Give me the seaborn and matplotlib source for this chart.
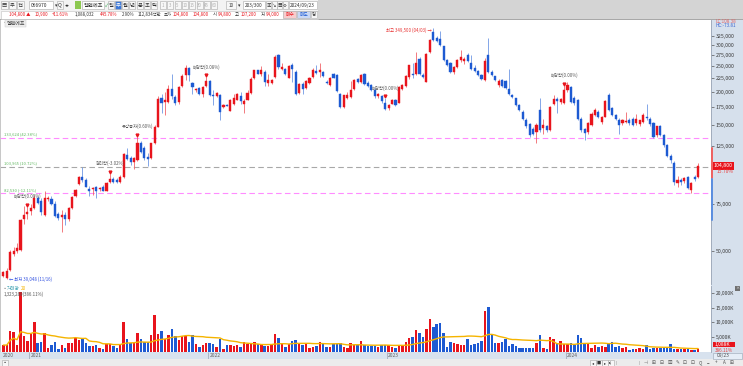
import numpy as np
import pandas as pd
import matplotlib
matplotlib.use("Agg")
import matplotlib.pyplot as plt
import matplotlib.transforms as mtransforms
from matplotlib.patches import Rectangle
from matplotlib.ticker import FixedLocator, FuncFormatter, NullLocator
import seaborn as sns

# weekly candles, 엘앤에프 (066970), prices in 1,000 won
opens = [40.3, 39.4, 42.4, 48.6, 49.8, 50.5, 65.8, 69.0, 71.0, 72.5,
         79.0, 77.0, 68.5, 78.3, 78.7, 75.0, 69.0, 67.2, 68.4, 66.0,
         72.5, 80.7, 89.6, 94.8, 93.0, 86.0, 85.4, 86.9, 85.8, 87.2,
         84.4, 91.0, 93.5, 92.5, 91.0, 95.0, 115.5, 112.2, 108.2, 110.4,
         127.5, 122.3, 113.2, 112.2, 127.5, 147.5, 189.0, 183.3, 183.3, 205.0,
         191, 183, 210, 232, 246, 215, 203, 206, 196, 210,
         219, 194, 192, 195, 175.5, 178.5, 169.5, 179, 186.5, 192,
         180.5, 186.5, 198, 225, 242, 234, 238, 215, 215.5, 227,
         275, 244, 244, 226, 253, 238, 197.5, 214, 206.5, 215,
         227, 240, 238, 238, 218.5, 212, 234, 231, 196, 175.5,
         190, 191, 204.5, 223.5, 217, 234, 215, 212, 203, 192,
         193, 181, 174, 180, 186, 182, 205, 210, 227, 234,
         234, 267, 231, 218.5, 283, 337, 320, 317, 297, 264,
         256, 238, 248, 264, 262, 276, 256, 246, 240, 232,
         222, 275, 238, 229, 212, 221, 219, 205, 194, 189,
         178, 168, 157, 151, 145, 141, 171, 146, 148, 143,
         180, 187, 183, 181, 203, 208, 190, 186, 158, 144,
         141, 150, 163, 168, 153, 161, 194, 173, 163, 157,
         152, 154, 157, 158, 152, 151, 153, 161, 158, 152,
         137, 148, 137, 126, 114, 108, 90.5, 93, 92, 95,
         85, 95, 94.8]
highs = [42.0, 43.0, 50.5, 52.0, 53.5, 66.0, 73.7, 74.0, 75.0, 81.5,
         81.0, 79.0, 84.0, 80.5, 80.5, 77.5, 70.5, 71.4, 70.2, 73.5,
         81.0, 86.0, 96.0, 103.5, 94.0, 88.0, 87.5, 88.0, 87.5, 89.0,
         91.0, 98.6, 95.0, 94.0, 96.5, 117.0, 123.0, 114.0, 113.0, 136.0,
         130.0, 125.0, 117.0, 128.5, 150.0, 192.0, 196.0, 200.0, 212.0, 233.0,
         194, 210, 234, 252, 248, 217, 206.5, 208, 210, 229,
         221, 203, 199.5, 196, 180.5, 180, 188, 196, 197.5, 199.5,
         188, 203, 227, 242.5, 242.5, 250, 242, 234, 224, 275,
         277, 256, 246, 252, 256, 242, 215, 217, 221, 227,
         246, 252, 256, 240, 221, 227, 235, 233, 197.5, 195,
         199.5, 219.5, 223, 226, 233, 236, 219, 214, 206, 198,
         195, 190, 180, 187, 188, 210, 214, 231, 253, 256,
         282, 270, 236, 279, 316, 349.5, 325, 340, 299, 266,
         260, 250, 266, 288, 270, 279, 275, 253, 242, 234,
         268, 318, 241, 230, 223, 223, 221, 244, 196, 190,
         180, 170, 159, 152, 147, 152, 189, 158, 150, 177,
         194, 191, 190, 212, 217, 210, 192, 188, 160, 146,
         153, 167, 173, 170, 162, 186, 197, 175, 165, 159,
         158, 167, 159, 160, 165, 157, 166, 180, 160, 153,
         149, 150, 139, 127, 116, 109, 96, 94.5, 95.5, 96,
         91, 97, 107.2]
lows = [39.8, 39.05, 42.0, 48.0, 49.2, 50.0, 63.5, 66.0, 68.5, 72.0,
        75.0, 68.5, 68.0, 77.0, 74.5, 67.0, 65.5, 59.0, 62.8, 65.0,
        72.0, 80.0, 88.5, 91.5, 87.0, 81.0, 81.6, 79.5, 84.5, 84.0,
        84.0, 90.5, 90.0, 90.0, 90.5, 94.5, 110.0, 105.5, 102.4, 109.0,
        117.0, 110.0, 105.0, 111.0, 127.0, 147.0, 166.0, 163.0, 181.0, 188.0,
        178, 180.5, 208, 221.5, 219.5, 196, 199.5, 194, 191, 209,
        192, 178, 191, 156, 173, 176, 169, 178, 186, 180.5,
        165.5, 186, 196, 223.5, 233, 229, 210, 210, 214, 226,
        244, 242, 232, 225, 217, 194, 196, 196, 205, 214,
        226, 234, 227, 227, 214, 211, 225, 200, 173, 174,
        188, 190, 203, 215, 216, 212, 209, 201, 190, 190,
        182, 170, 171, 179, 176, 181, 203, 208, 223, 225,
        232, 232, 225, 217, 281, 312, 308, 297, 262, 250,
        236, 234, 246, 260, 254, 258, 242, 238, 229, 222,
        220, 236, 229, 219, 208, 209, 204, 194, 189, 176,
        169, 156, 146, 135, 137, 128, 141, 139, 141, 142,
        178, 166, 180, 180, 200, 181, 178, 156, 141, 131,
        139, 149, 162, 159, 151, 160, 169, 162, 156, 139,
        150, 152, 150, 148, 150, 149, 152, 157, 149, 134,
        135, 136, 124, 113, 108, 89, 87.5, 89, 90.5, 86,
        82.5, 92, 94.0]
closes = [41.6, 42.2, 49.7, 50.0, 51.2, 65.5, 68.2, 70.0, 72.5, 79.5,
          75.8, 70.3, 79.5, 79.0, 75.2, 68.0, 66.5, 68.4, 66.0, 73.0,
          80.3, 85.3, 95.2, 92.8, 87.6, 84.5, 86.5, 84.4, 86.5, 84.4,
          90.2, 93.5, 91.0, 91.0, 95.5, 116.5, 111.2, 108.2, 112.2, 128.5,
          118.7, 112.2, 111.2, 127.5, 147.5, 188.0, 180.8, 186.1, 205.0, 192.5,
          181.5, 208, 229, 246, 231, 208, 204.5, 196, 208, 219.5,
          194, 192, 197.5, 168, 178.5, 177, 186.5, 190, 196, 184.5,
          184.5, 198, 223.5, 242, 234, 242, 217, 221.5, 222, 271,
          248, 248, 234, 250, 244, 196, 214, 204, 219.5, 226,
          242.5, 236, 242, 229, 215, 226, 226, 201, 175.5, 194,
          194.5, 203, 221.5, 217, 231, 214, 211, 203, 192, 196,
          184, 172, 178, 186, 178, 208, 212, 229, 252, 231,
          256, 234, 227.5, 277, 314, 314, 311, 300, 264, 253,
          238, 248, 264, 270, 267, 261, 244, 240, 231, 224,
          262, 238, 231, 221, 220, 211, 206, 196, 191, 178,
          171, 158, 148, 137, 139, 150, 143, 150, 143, 175,
          187, 185, 187, 203, 212, 183, 181, 158, 143, 140,
          152, 165, 171, 161, 161, 185, 171, 164, 158, 150,
          156, 155, 152, 150, 158, 156, 164, 159, 151, 135,
          148, 137, 126, 114, 110, 91, 93, 91.5, 94.5, 86.6,
          90.4, 93.9, 104.8]
# weekly volume, 1,000 shares
volumes = [2330, 2330, 7100, 6770, 2330, 20090, 5440, 3660, 6220, 10100,
           3110, 3440, 6550, 1220, 2330, 3330, 1000, 2220, 1440, 2890,
           2890, 4770, 4000, 4550, 3110, 2110, 2110, 2440, 1220, 890,
           2780, 2780, 2110, 1220, 2440, 10100, 4550, 2890, 2890, 6550,
           4550, 3440, 3440, 5660, 12540, 5990, 7100, 4550, 5660, 7880,
           5330, 4000, 5550, 5330, 3440, 5660, 2550, 1780, 2330, 3110,
           3110, 2550, 1780, 4550, 890, 2330, 2330, 2110, 2330, 1780,
           3440, 2550, 2550, 3440, 2550, 2550, 2110, 2110, 2550, 6220,
           4770, 3110, 1550, 2550, 3660, 4000, 2550, 2330, 2550, 1440,
           1780, 2110, 3440, 2550, 1780, 1780, 2550, 2550, 2890, 1780,
           1440, 2890, 2330, 2330, 3660, 2330, 2000, 2000, 2110, 1780,
           2330, 2330, 2330, 1780, 1440, 2220, 2220, 3440, 4880, 5110,
           7550, 6550, 5110, 7660, 11210, 8440, 9320, 9770, 6440, 1780,
           3330, 2890, 2660, 2220, 2330, 4550, 2330, 2550, 2890, 3660,
           13990, 15320, 5660, 2890, 2890, 3220, 4330, 2000, 2550, 2000,
           1440, 1440, 1440, 1440, 1440, 3110, 5880, 1220, 890, 5110,
           4220, 2890, 3770, 2550, 2550, 2890, 2330, 5880, 4770, 2550,
           2550, 1440, 2220, 1550, 2000, 1780, 3110, 3440, 1780, 2000,
           1440, 1780, 670, 890, 890, 1220, 890, 2330, 890, 1220,
           1440, 1220, 1220, 1440, 2550, 890, 890, 890, 890, 1220,
           670, 670, 1088]

price_ticks = [50, 75, 125, 150, 175, 200, 225, 250, 275, 300, 325]
volume_ticks = [5000, 10000, 15000, 20000]
level_values = [133.624, 103.965, 82.530]
level_labels = ["133,624 (42.38%)", "103,965 (10.72%)", "82,530 (-12.11%)"]
level_colors = ["#ff8cff", "#a8a8a8", "#ff8cff"]
event_index = [7, 31, 39, 59, 111, 163]
event_labels = ["배당락(0.00%)", "권리락(-3.02%)", "유상증자(0.60%)",
                "배당락(0.08%)", "배당락(0.00%)", "배당락(0.00%)"]
range_red = (94.0, 122.5)
range_blue = (65.6, 93.2)

RED, BLUE = "#e8141c", "#1d5ad2"
RED_WICK, BLUE_WICK = "#f0646a", "#6f98e4"
ORANGE = "#f5b400"

W, H = 743, 366
sns.set_theme(style="white")
plt.rcParams["font.family"] = ["Noto Sans CJK KR", "DejaVu Sans"]
plt.rcParams["axes.unicode_minus"] = False

fig = plt.figure(figsize=(W / 100, H / 100), dpi=100)
fig.patch.set_facecolor("white")


def fx(x):
    return x / W


def fy(y):
    return 1 - y / H


def box(x0, y0, x1, y1, fc, ec="none", lw=0.5, z=-1):
    fig.add_artist(Rectangle((fx(x0), fy(y1)), fx(x1) - fx(x0), fy(y0) - fy(y1),
                             transform=fig.transFigure, fc=fc, ec=ec, lw=lw, zorder=z))


def label(x, y, s, color="#333333", size=4.0, ha="left", **kw):
    fig.text(fx(x), fy(y), s, color=color, fontsize=size, ha=ha, va="center", zorder=5, **kw)


def button(x0, x1, y0, y1, s, fc="#f7f7f7", tc="#333333", size=3.8):
    box(x0, y0, x1, y1, fc, ec="#a8a8a8", lw=0.4, z=1)
    label((x0 + x1) / 2, (y0 + y1) / 2, s, color=tc, size=size, ha="center")


# ---- panels around the chart ----
box(0, 0, 743, 20, "#d4d4d4", z=-2)
box(0, 0, 318, 20, "#f3f3f3", z=-1.5)
box(0, 19.3, 743, 20, "#a8a8a8", z=-1)
box(711, 20, 743, 352, "#d6e0ec", z=-2)
box(0, 352, 743, 359, "#d8e2ee", z=-2)
box(0, 359, 743, 366, "#ececec", z=-2)
box(0, 284.6, 711, 285.4, "#c8c8c8", z=-1)
box(0, 20, 1.2, 352, "#c8c8c8", z=3)

# ---- top toolbar ----
r1 = (1.2, 9)
button(1, 8, *r1, "▤")
button(9, 16, *r1, "주")
button(17, 24, *r1, "전")
box(29, 1.2, 53, 9, "white", ec="#a8a8a8", lw=0.4, z=1)
label(31, 5.1, "066970", size=3.6)
label(54.5, 5.1, "▾", size=3.5)
button(57, 63, *r1, "Q")
label(65, 5.1, "◂▸", size=3.5)
box(75, 1.5, 81, 8.7, "#8cc850", z=1)
box(82, 1.2, 104, 9, "white", ec="#a8a8a8", lw=0.4, z=1)
label(84, 5.1, "엘앤에프", size=3.8)
label(105, 5.1, "✓", color="#20a040", size=3.5)
for k, s in enumerate(["일", "주", "월", "년"]):
    sel = s == "주"
    button(108 + 7 * k, 114 + 7 * k, *r1, s, fc="#3c78d8" if sel else "#f7f7f7",
           tc="white" if sel else "#333333")
for k, s in enumerate(["분", "초", "틱"]):
    button(137 + 7 * k, 143 + 7 * k, *r1, s)
for k, s in enumerate(["1", "3", "5", "10", "15", "30", "45", "60"]):
    button(160 + 7.3 * k, 166 + 7.3 * k, *r1, s, tc="#b0b0b0", size=3.2)
button(226, 236, *r1, "10", size=3.3)
label(238, 5.1, "▾", size=3.5)
box(243, 1.2, 265, 9, "white", ec="#a8a8a8", lw=0.4, z=1)
label(254, 5.1, "203/300", size=3.4, ha="center")
for k, s in enumerate(["▣", "↘", "▦", "⚙"]):
    button(266 + 5.5 * k, 271 + 5.5 * k, *r1, s, size=3.2)
box(289, 1.2, 317, 9, "white", ec="#a8a8a8", lw=0.4, z=1)
label(290, 5.1, "2024/09/23", size=3.4)

box(0.5, 10.5, 317.5, 18.8, "white", ec="#c0c0c0", lw=0.4, z=0.5)
row2 = [(9, "104,800 ▲", RED), (35, "10,900", RED), (52, "+11.61%", RED),
        (75, "1,088,032", "#333333"), (100, "445.78%", RED), (122, "2.90%", "#333333"),
        (137.5, "112,834백만", "#333333"), (164, "초가", "#333333"), (173, "104,800", RED),
        (192.5, "104,800", RED), (212.5, "시", "#333333"), (218, "94,800", RED),
        (235, "고", "#333333"), (240.5, "107,200", RED), (260.5, "저", "#333333"),
        (266, "94,000", RED)]
for x, s, col in row2:
    label(x, 14.6, s, color=col, size=3.1)
button(283, 296, 11, 18.3, "매수", fc="#f8cccc", tc=RED, size=3.4)
button(297, 310, 11, 18.3, "매도", fc="#c9d8f5", tc=BLUE, size=3.4)
button(311, 317, 11, 18.3, "링", size=3.3)

# ---- main candle chart ----
idx = np.arange(len(closes))
o, h, l, c = map(np.array, (opens, highs, lows, closes))
up = c >= o
body_col = np.where(up, RED, BLUE)
wick_col = np.where(up, RED_WICK, BLUE_WICK)

ax = fig.add_axes([0, fy(284.5), fx(711), (284.5 - 20) / H])
ax.set_yscale("log")
ax.vlines(idx, l, h, colors=wick_col, lw=0.6, zorder=2)
ax.bar(idx, np.abs(c - o), bottom=np.minimum(o, c), width=0.62, color=body_col,
       edgecolor=body_col, linewidth=0.3, zorder=3)

for v, s, col in zip(level_values, level_labels, level_colors):
    ax.axhline(v, color=col, lw=0.8, ls=(0, (5, 3)), zorder=1)
    ax.text(0.2, v * 1.032, s, color="#62b862", fontsize=3.0, va="center", zorder=4)

for i, s in zip(event_index, event_labels):
    ax.plot(i, highs[i] * 1.012, marker="v", ms=2.0, color=RED, zorder=5, clip_on=False)
    ax.text(i, highs[i] * 1.085, s, color="#555555", fontsize=3.1, ha="center", va="center", zorder=5)

top_i = int(np.argmax(h))
low_i = int(np.argmin(l))
ax.text(top_i - 0.5, 342, "최고 349,500 (04/03) →", color="#e83030", fontsize=3.1,
        ha="right", va="center", zorder=5)
ax.text(low_i + 0.6, 39.2, "← 최저 39,048 (11/16)", color="#2f4fe0", fontsize=3.1,
        ha="left", va="center", zorder=5)

ax.set_xlim(-0.96, 205.73)
ax.set_ylim(37.36, 373.3)
ax.yaxis.set_major_locator(FixedLocator(price_ticks))
ax.yaxis.set_minor_locator(NullLocator())
ax.yaxis.set_major_formatter(FuncFormatter(lambda v, p: f"{v * 1000:,.0f}"))
ax.yaxis.set_minor_formatter(FuncFormatter(lambda v, p: ""))
ax.yaxis.tick_right()
ax.tick_params(axis="y", labelsize=3.8, labelcolor="#3a3a3a", length=2, width=0.5,
               color="#555555", pad=1.5)
ax.set_xticks([])
ax.set_xlabel("")
ax.set_ylabel("")
for s in ["top", "left", "bottom"]:
    ax.spines[s].set_visible(False)
ax.spines["right"].set_color("#98a4b4")
ax.spines["right"].set_linewidth(0.6)
ax.set_facecolor("white")

trans = mtransforms.blended_transform_factory(ax.transAxes, ax.transData)
ax.plot([1.002, 1.002], range_red, transform=trans, color="#f06060", lw=1.4, clip_on=False, zorder=6)
ax.plot([1.002, 1.002], range_blue, transform=trans, color="#5a8ee0", lw=1.4, clip_on=False, zorder=6)
ax.text(1.004, closes[-1], f"{closes[-1] * 1000:,.0f}", transform=trans, color="white",
        fontsize=3.8, va="center", ha="left", clip_on=False, zorder=7,
        bbox=dict(boxstyle="square,pad=0.25", fc=RED, ec="none"))
ax.text(1.008, closes[-1] * 0.957, "15.70%", transform=trans, color="#e84040",
        fontsize=3.5, va="center", ha="left", clip_on=False, zorder=7)
label(715, 21.8, "LC:108.38", color="#e06060", size=3.3)
label(715, 25.6, "HC:-73.81", color="#3a64d0", size=3.3)

# chart title
label(2.5, 23.3, "▪", color="#888888", size=3.0)
label(6.5, 23.3, "엘앤에프", color="#444444", size=3.6,
      bbox=dict(boxstyle="square,pad=0.2", fc="#eeeeee", ec="#c8c8c8", lw=0.3))

# ---- volume pane ----
axv = fig.add_axes([0, fy(352), fx(711), (352 - 285.5) / H])
vol_df = pd.DataFrame({"week": idx, "volume": volumes, "dir": np.where(up, "up", "down")})
sns.barplot(data=vol_df, x="week", y="volume", hue="dir", palette={"up": RED, "down": BLUE},
            order=list(idx), width=0.72, dodge=False, legend=False, errorbar=None,
            saturation=1, linewidth=0, edgecolor="none", ax=axv)
vol_ma = vol_df["volume"].rolling(20, min_periods=1).mean()
sns.lineplot(x=idx, y=vol_ma, color=ORANGE, lw=1.0, ax=axv, zorder=4)
axv.set_xlim(-0.96, 205.73)
axv.set_ylim(0, 22450)
axv.yaxis.set_major_locator(FixedLocator(volume_ticks))
axv.yaxis.set_major_formatter(FuncFormatter(lambda v, p: f"{v:,.0f}K"))
axv.yaxis.tick_right()
axv.tick_params(axis="y", labelsize=3.6, labelcolor="#3a3a3a", length=2, width=0.5,
                color="#555555", pad=1.5)
axv.set_xticks([])
axv.set_xlabel("")
axv.set_ylabel("")
for s in ["top", "left", "bottom"]:
    axv.spines[s].set_visible(False)
axv.spines["right"].set_color("#98a4b4")
axv.spines["right"].set_linewidth(0.6)

label(2.5, 288.8, "▪", color="#888888", size=3.0)
label(7, 288.8, "거래량", color="#3a9fb0", size=3.3)
label(20.5, 288.8, "20", color=ORANGE, size=3.3)
label(4, 294.3, "1,323,289(386.11%)", color="#555555", size=3.2)
box(735, 286, 740, 290.5, "#707070", z=3)
label(737.5, 288.3, "×", color="white", size=3.0, ha="center")
box(713, 341.5, 735, 346.5, RED, z=3)
label(714.5, 344, "1,088K", color="white", size=3.5)
label(715, 350, "386.11%", color="#e84040", size=3.3)

# ---- date band ----
dates = pd.date_range("2020-11-09", periods=len(closes), freq="W-MON")
axd = fig.add_axes([0, fy(359), fx(711), 7 / H])
axd.set_xlim(-0.96, 205.73)
axd.set_ylim(0, 1)
axd.axis("off")
year_starts = [0] + [int(k) for k in np.where(dates.year[1:] != dates.year[:-1])[0] + 1]
for k in year_starts:
    if k > 0:
        axd.vlines(k - 0.4, 0, 1, color="#98a4b4", lw=0.5)
    axd.text(k - 0.1, 0.5, str(dates[k].year), color="#606060", fontsize=3.5, va="center")
box(713, 352.5, 742, 358.5, "#e6eef7", ec="#98a4b4", lw=0.4, z=1)
label(716.5, 355.5, dates[-1].strftime("%m/%d"), color="#505050", size=3.5)

# ---- bottom toolbar ----
button(2, 8, 360, 365.5, "▪", size=3.0)
tools = ["◂", "■", "▸", "▸|"]
for k, s in enumerate(tools):
    button(590 + 6 * k, 595.5 + 6 * k, 360, 365.5, s, size=3.0)
box(616, 362.5, 640, 363, "#707070", z=1)
label(616, 362.7, "|", color="#707070", size=3.0)
label(639, 362.7, "|", color="#707070", size=3.0)
for k, s in enumerate(["⊣", "⊞", "⊟", "⊠", "✎", "⊡", "⊡", "Q", "−", "+", "A", "⊞"]):
    label(646 + 7.8 * k, 362.7, s, color="#505050", size=3.3, ha="center")

fig.savefig("out.png", dpi=100)
